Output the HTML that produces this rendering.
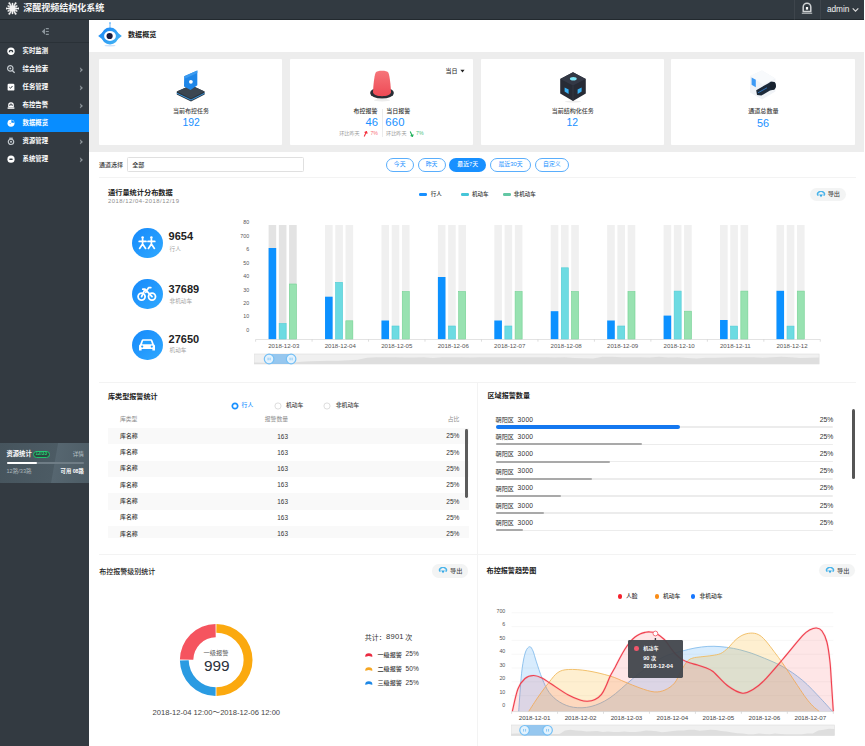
<!DOCTYPE html>
<html lang="zh-CN">
<head>
<meta charset="utf-8">
<title>深醒视频结构化系统 - 数据概览</title>
<style>
html,body{margin:0;padding:0;background:#fff;}
body{position:relative;width:865px;height:746px;overflow:hidden;font-family:"Liberation Sans","Noto Sans CJK SC",sans-serif;}
.a{position:absolute;display:block;}
.t{white-space:nowrap;}
.g{position:absolute;left:0;top:0;display:block;overflow:visible;}
.h{position:absolute;left:0;top:0;width:100%;height:100%;overflow:visible;white-space:nowrap;font-family:"Liberation Sans","Noto Sans CJK SC",sans-serif;font-weight:normal;}
.h.b{font-weight:bold;}
.h.m{font-weight:500;}
</style>
</head>
<body>
<header class="topbar">
<div class="a" style="left:0px;top:0px;width:864px;height:19.8px;background:#22292e;"></div>
<div class="a" style="left:0px;top:0px;width:864px;height:18.5px;background:#323a41;"></div>
<svg class="a" style="left:6.2px;top:1.9px;width:13px;height:13px;" viewBox="0 0 13 13"><line x1="6.5" y1="6.5" x2="12.7" y2="6.5" stroke="#f2f2f2" stroke-width="1.2"/><circle cx="12.7" cy="6.5" r="1.0" fill="#f2f2f2"/><line x1="6.5" y1="6.5" x2="10.83" y2="9" stroke="#f2f2f2" stroke-width="1"/><circle cx="10.83" cy="9" r="0.8" fill="#f2f2f2"/><line x1="6.5" y1="6.5" x2="9.6" y2="11.87" stroke="#f2f2f2" stroke-width="1.2"/><circle cx="9.6" cy="11.87" r="1.0" fill="#f2f2f2"/><line x1="6.5" y1="6.5" x2="6.5" y2="11.5" stroke="#f2f2f2" stroke-width="1"/><circle cx="6.5" cy="11.5" r="0.8" fill="#f2f2f2"/><line x1="6.5" y1="6.5" x2="3.4" y2="11.87" stroke="#f2f2f2" stroke-width="1.2"/><circle cx="3.4" cy="11.87" r="1.0" fill="#f2f2f2"/><line x1="6.5" y1="6.5" x2="2.17" y2="9" stroke="#f2f2f2" stroke-width="1"/><circle cx="2.17" cy="9" r="0.8" fill="#f2f2f2"/><line x1="6.5" y1="6.5" x2="0.3" y2="6.5" stroke="#f2f2f2" stroke-width="1.2"/><circle cx="0.3" cy="6.5" r="1.0" fill="#f2f2f2"/><line x1="6.5" y1="6.5" x2="2.17" y2="4" stroke="#f2f2f2" stroke-width="1"/><circle cx="2.17" cy="4" r="0.8" fill="#f2f2f2"/><line x1="6.5" y1="6.5" x2="3.4" y2="1.13" stroke="#f2f2f2" stroke-width="1.2"/><circle cx="3.4" cy="1.13" r="1.0" fill="#f2f2f2"/><line x1="6.5" y1="6.5" x2="6.5" y2="1.5" stroke="#f2f2f2" stroke-width="1"/><circle cx="6.5" cy="1.5" r="0.8" fill="#f2f2f2"/><line x1="6.5" y1="6.5" x2="9.6" y2="1.13" stroke="#f2f2f2" stroke-width="1.2"/><circle cx="9.6" cy="1.13" r="1.0" fill="#f2f2f2"/><line x1="6.5" y1="6.5" x2="10.83" y2="4" stroke="#f2f2f2" stroke-width="1"/><circle cx="10.83" cy="4" r="0.8" fill="#f2f2f2"/><circle cx="6.5" cy="6.5" r="3.2" fill="#f2f2f2"/><circle cx="6.5" cy="6.5" r="4.3" fill="none" stroke="#fff" stroke-opacity=".4" stroke-width="1"/></svg>
</header>
<aside class="sidebar">
<div class="a" style="left:23.2px;top:4px;width:81px;height:9px"><span class="h b" style="font-size:9px;line-height:9px;color:#f4f4f4">深醒视频结构化系统</span></div>
<div class="a" style="left:793.6px;top:0px;width:0.6px;height:19.8px;background:rgba(255,255,255,.06);"></div>
<div class="a" style="left:820.2px;top:0px;width:0.6px;height:19.8px;background:rgba(255,255,255,.06);"></div>
<svg class="a" style="left:800.9px;top:2.2px;width:12px;height:12px;" viewBox="0 0 12 12"><path d="M2.2 9.4V5A3.8 3.8 0 0 1 9.8 5V9.4Z" fill="none" stroke="#cfd2d4" stroke-width="1.5" stroke-linejoin="round"/><rect x="4.9" y="5" width="2.2" height="2.6" fill="#fff"/><path d="M0.8 11.2h10.4" stroke="#c4c8ca" stroke-width="1.1"/></svg>
<div class="a" style="left:826.9px;top:4.67px;width:22.61px;height:8.3px"><span class="h" style="font-size:8.3px;line-height:8.3px;color:#f4f4f4">admin</span></div>
<svg class="a" style="left:852.2px;top:6.8px;width:7px;height:6px;" viewBox="0 0 7 6"><path d="M0.7 1.4L3.5 4.2L6.3 1.4" fill="none" stroke="#dcdcdc" stroke-width="1.15"/></svg>
<div class="a" style="left:0px;top:19.8px;width:89.4px;height:726.2px;background:#333a41;"></div>
<div class="a" style="left:0px;top:42.1px;width:89.4px;height:0.6px;background:#2a3137;"></div>
<svg class="a" style="left:40.9px;top:27.2px;width:9px;height:9px;" viewBox="0 0 9 9"><path d="M0.8 4.5L4 1.4V7.6Z" fill="#8d969d"/><path d="M4.8 1.6h3M4.8 4.5h3M4.8 7.4h3" stroke="#8d969d" stroke-width="1.1"/></svg>
<svg class="a" style="left:7px;top:47.3px;width:8px;height:8.4px;" viewBox="0 0 8 8.4"><circle cx="4" cy="4.2" r="3.7" fill="#fff"/><path d="M1.6 5.2a2.4 2.4 0 0 1 4.8 0z" fill="#30383f"/><circle cx="4" cy="4.9" r="0.9" fill="#fff"/></svg>
<div class="a" style="left:22.5px;top:48.2px;width:25.6px;height:6.4px"><span class="h b" style="font-size:6.4px;line-height:6.4px;color:#fff">实时监测</span></div>
<svg class="a" style="left:7px;top:65.3px;width:8px;height:8.4px;" viewBox="0 0 8 8.4"><circle cx="3.3" cy="3.4" r="2.7" fill="none" stroke="#c3c9ce" stroke-width="1.2"/><path d="M5.3 5.5L7.6 7.8" stroke="#c3c9ce" stroke-width="1.3"/><circle cx="3.3" cy="3.4" r="0.9" fill="#c3c9ce"/></svg>
<div class="a" style="left:22.5px;top:66.2px;width:25.6px;height:6.4px"><span class="h b" style="font-size:6.4px;line-height:6.4px;color:#fff">综合检索</span></div>
<svg class="a" style="left:79.2px;top:66.6px;width:5px;height:6px;" viewBox="0 0 5 6"><path d="M1.2 0.8L3.6 2.9L1.2 5L2 2.9Z" fill="#949ca2" stroke="#949ca2" stroke-width="0.5" stroke-linejoin="round"/></svg>
<svg class="a" style="left:7px;top:83.3px;width:8px;height:8.4px;" viewBox="0 0 8 8.4"><rect x="0.6" y="0.8" width="6.8" height="6.8" rx="1.2" fill="#fff"/><path d="M2.3 4.1l1.2 1.2l2-2.3" stroke="#30383f" stroke-width="1" fill="none"/></svg>
<div class="a" style="left:22.5px;top:84.2px;width:25.6px;height:6.4px"><span class="h b" style="font-size:6.4px;line-height:6.4px;color:#fff">任务管理</span></div>
<svg class="a" style="left:79.2px;top:84.6px;width:5px;height:6px;" viewBox="0 0 5 6"><path d="M1.2 0.8L3.6 2.9L1.2 5L2 2.9Z" fill="#949ca2" stroke="#949ca2" stroke-width="0.5" stroke-linejoin="round"/></svg>
<svg class="a" style="left:7px;top:101.3px;width:8px;height:8.4px;" viewBox="0 0 8 8.4"><path d="M1.8 5.6v-1.6a2.2 2.2 0 0 1 4.4 0v1.6z" fill="none" stroke="#fff" stroke-width="1.2"/><path d="M0.6 7.1h6.8" stroke="#fff" stroke-width="1.4"/><circle cx="4" cy="4.3" r="0.8" fill="#fff"/></svg>
<div class="a" style="left:22.5px;top:102.2px;width:25.6px;height:6.4px"><span class="h b" style="font-size:6.4px;line-height:6.4px;color:#fff">布控告警</span></div>
<svg class="a" style="left:79.2px;top:102.6px;width:5px;height:6px;" viewBox="0 0 5 6"><path d="M1.2 0.8L3.6 2.9L1.2 5L2 2.9Z" fill="#949ca2" stroke="#949ca2" stroke-width="0.5" stroke-linejoin="round"/></svg>
<div class="a" style="left:0px;top:113.9px;width:89.4px;height:18.2px;background:#088dff;"></div>
<svg class="a" style="left:7px;top:119.3px;width:8px;height:8.4px;" viewBox="0 0 8 8.4"><circle cx="4" cy="4.2" r="3.5" fill="#fff"/><path d="M4.4 3.8V0.9A3.3 3.3 0 0 1 7.3 3.8z" fill="#088dff"/><circle cx="3.2" cy="4.6" r="0.7" fill="#5cb3ff"/></svg>
<div class="a" style="left:22.5px;top:120.2px;width:25.6px;height:6.4px"><span class="h b" style="font-size:6.4px;line-height:6.4px;color:#fff">数据概览</span></div>
<svg class="a" style="left:7px;top:137.3px;width:8px;height:8.4px;" viewBox="0 0 8 8.4"><circle cx="4" cy="4.8" r="2.7" fill="none" stroke="#c3c9ce" stroke-width="1.2"/><path d="M2.2 1.2h3.6" stroke="#c3c9ce" stroke-width="1.2"/><circle cx="4" cy="4.8" r="1" fill="#c3c9ce"/></svg>
<div class="a" style="left:22.5px;top:138.2px;width:25.6px;height:6.4px"><span class="h b" style="font-size:6.4px;line-height:6.4px;color:#fff">资源管理</span></div>
<svg class="a" style="left:79.2px;top:138.6px;width:5px;height:6px;" viewBox="0 0 5 6"><path d="M1.2 0.8L3.6 2.9L1.2 5L2 2.9Z" fill="#949ca2" stroke="#949ca2" stroke-width="0.5" stroke-linejoin="round"/></svg>
<svg class="a" style="left:7px;top:155.3px;width:8px;height:8.4px;" viewBox="0 0 8 8.4"><circle cx="4" cy="4.2" r="3.6" fill="#fff"/><rect x="2.2" y="3.4" width="3.6" height="1.7" rx="0.8" fill="#30383f"/></svg>
<div class="a" style="left:22.5px;top:156.2px;width:25.6px;height:6.4px"><span class="h b" style="font-size:6.4px;line-height:6.4px;color:#fff">系统管理</span></div>
<svg class="a" style="left:79.2px;top:156.6px;width:5px;height:6px;" viewBox="0 0 5 6"><path d="M1.2 0.8L3.6 2.9L1.2 5L2 2.9Z" fill="#949ca2" stroke="#949ca2" stroke-width="0.5" stroke-linejoin="round"/></svg>
<div class="a" style="left:0px;top:442.5px;width:89.4px;height:40.2px;background:linear-gradient(100deg,#46545d 0%,#4c5b64 60%,#566670 61%,#4d5c65 100%);"></div>
<div class="a" style="left:6.5px;top:451.15px;width:25.2px;height:6.3px"><span class="h b" style="font-size:6.3px;line-height:6.3px;color:#fff">资源统计</span></div>
<div class="a" style="left:32.7px;top:450.6px;width:17px;height:7.4px;border:.8px solid #1fc56d;border-radius:4px;box-sizing:border-box;background:#2c4a40;"></div>
<div class="a" style="left:35.44px;top:452px;width:11.51px;height:4.6px"><span class="h b" style="font-size:4.6px;line-height:4.6px;color:#27d37a">12/33</span></div>
<div class="a" style="left:72.7px;top:451.5px;width:11.2px;height:5.6px"><span class="h" style="font-size:5.6px;line-height:5.6px;color:#b9c2c8">详情</span></div>
<div class="a" style="left:6.5px;top:461.8px;width:77.4px;height:2px;background:#6f7d86;border-radius:1px;"></div>
<div class="a" style="left:6.5px;top:461.8px;width:30.5px;height:2px;background:#fff;border-radius:1px;"></div>
<div class="a" style="left:6.5px;top:469px;width:25.21px;height:5.6px"><span class="h" style="font-size:5.6px;line-height:5.6px;color:#aab4ba">12路/33路</span></div>
<div class="a" style="left:60.62px;top:469.15px;width:23.28px;height:5.3px"><span class="h b" style="font-size:5.3px;line-height:5.3px;color:#fff">可用 08路</span></div>
</aside>
<section class="overview-cards">
<div class="a" style="left:89.4px;top:19.8px;width:774.6px;height:31.8px;background:#fff;"></div>
<svg class="a" style="left:97.5px;top:22px;width:24px;height:25px;" viewBox="0 0 24 25"><defs><linearGradient id="eg" x1="0" y1="0" x2="1" y2="1"><stop offset="0" stop-color="#1a86f5"/><stop offset="1" stop-color="#45b6f3"/></linearGradient></defs><ellipse cx="12" cy="23.6" rx="5.5" ry="0.9" fill="#cfe3fb"/><path d="M11.55 0.6h.9v6h-.9z" fill="#5fb0f7"/><circle cx="12" cy="1" r="0.8" fill="#5fb0f7"/><path d="M0.2 14L7 8.4A8.4 8.4 0 0 1 17 8.4L23.8 14L17 19.6A8.4 8.4 0 0 1 7 19.6Z" fill="url(#eg)"/><circle cx="12" cy="14" r="8.5" fill="url(#eg)"/><ellipse cx="12" cy="14" rx="5.9" ry="4.9" fill="#fff"/><circle cx="11.6" cy="14" r="3.1" fill="#1b1b3c"/></svg>
<div class="a" style="left:128px;top:32.45px;width:28.4px;height:7.1px"><span class="h b" style="font-size:7.1px;line-height:7.1px;color:#222">数据概览</span></div>
<div class="a" style="left:89.4px;top:51.6px;width:774.6px;height:100.3px;background:#ededed;"></div>
<div class="a" style="left:99.2px;top:59.1px;width:182.8px;height:85.5px;background:#fff;border-radius:1px;"></div>
<div class="a" style="left:289.6px;top:59.1px;width:183.8px;height:85.5px;background:#fff;border-radius:1px;"></div>
<div class="a" style="left:481px;top:59.1px;width:183px;height:85.5px;background:#fff;border-radius:1px;"></div>
<div class="a" style="left:671.4px;top:59.1px;width:183.3px;height:85.5px;background:#fff;border-radius:1px;"></div>
<svg class="a" style="left:176px;top:69px;width:30px;height:33px;" viewBox="0 0 30 33"><path d="M0.8 22.6L15 16.2L28.6 22.6V25.4L15 32.4L0.8 25.4Z" fill="#27313b"/><path d="M0.8 24.2L15 31L28.6 24.2" fill="none" stroke="#3fa3f0" stroke-width="0.9"/><path d="M0.8 22.6L15 16.2L28.6 22.6L15 29.4Z" fill="#3b4651"/><path d="M8.2 7.2L21.3 1.4V16.2L14.6 21L8 17.6Z" fill="#1e86e8"/><path d="M8.2 7.2L21.3 1.4V4L9.5 9.4Z" fill="#3c9bf0"/><circle cx="14.9" cy="12.8" r="1.9" fill="#fff"/></svg>
<div class="a" style="left:173.1px;top:108.2px;width:36px;height:6px"><span class="h m" style="font-size:6px;line-height:6px;color:#444">当前布控任务</span></div>
<div class="a" style="left:182.42px;top:117.77px;width:17.35px;height:10.4px"><span class="h" style="font-size:10.4px;line-height:10.4px;color:#1890ff">192</span></div>
<svg class="a" style="left:369.6px;top:70.4px;width:24px;height:32px;" viewBox="0 0 24 32"><defs><linearGradient id="rg" x1="0" y1="0" x2="0" y2="1"><stop offset="0" stop-color="#f6757a"/><stop offset="1" stop-color="#ee4a55"/></linearGradient></defs><ellipse cx="12" cy="30.2" rx="8" ry="1.2" fill="#ececec"/><ellipse cx="12" cy="23" rx="11.8" ry="5.6" fill="#2a2f36"/><path d="M3 22.5C3.3 15 4.2 6.5 5.6 2.8C7 0.2 17 0.2 18.4 2.8C19.8 6.5 20.7 15 21 22.5C20 27.4 4 27.4 3 22.5Z" fill="url(#rg)"/></svg>
<div class="a" style="left:353.6px;top:108.3px;width:24px;height:6px"><span class="h m" style="font-size:6px;line-height:6px;color:#333">布控报警</span></div>
<div class="a" style="left:386.3px;top:108.3px;width:24px;height:6px"><span class="h m" style="font-size:6px;line-height:6px;color:#333">当日报警</span></div>
<div class="a" style="left:382.1px;top:108.5px;width:0.6px;height:28px;background:#ececec;"></div>
<div class="a" style="left:365.4px;top:117.2px;width:12.8px;height:11.3px"><span class="h" style="font-size:11.3px;line-height:11.3px;color:#1890ff;letter-spacing:.2px">46</span></div>
<div class="a" style="left:385.2px;top:117.2px;width:19.31px;height:11.3px"><span class="h" style="font-size:11.3px;line-height:11.3px;color:#1890ff;letter-spacing:.2px">660</span></div>
<div class="a" style="left:339.2px;top:130.85px;width:20.4px;height:5.1px"><span class="h" style="font-size:5.1px;line-height:5.1px;color:#999">环比昨天</span></div>
<svg class="a" style="left:363.2px;top:130.6px;width:5px;height:6px;" viewBox="0 0 5 6"><path d="M1.2 5.4L3.4 0.8M1.6 1.6L3.5 0.6L4.2 2.6" fill="none" stroke="#f5323f" stroke-width="1.1"/></svg>
<div class="a" style="left:370.48px;top:130.79px;width:7.52px;height:5.2px"><span class="h" style="font-size:5.2px;line-height:5.2px;color:#f7707a">7%</span></div>
<div class="a" style="left:386.1px;top:130.85px;width:20.4px;height:5.1px"><span class="h" style="font-size:5.1px;line-height:5.1px;color:#999">环比昨天</span></div>
<svg class="a" style="left:409.4px;top:130.6px;width:5px;height:6px;" viewBox="0 0 5 6"><path d="M1.2 0.6L3.4 5.2M1.6 4.4L3.5 5.4L4.2 3.4" fill="none" stroke="#1fb05a" stroke-width="1.1"/></svg>
<div class="a" style="left:416px;top:130.79px;width:7.52px;height:5.2px"><span class="h" style="font-size:5.2px;line-height:5.2px;color:#4cc27e">7%</span></div>
<div class="a" style="left:445.4px;top:67.6px;width:12px;height:6px"><span class="h m" style="font-size:6px;line-height:6px;color:#333">当日</span></div>
<svg class="a" style="left:459.6px;top:68.5px;width:5px;height:4px;" viewBox="0 0 5 4"><path d="M0.4 0.7h4.2L2.5 3.4Z" fill="#222"/></svg>
<svg class="a" style="left:559.6px;top:72px;width:26px;height:31px;" viewBox="0 0 26 31"><ellipse cx="13" cy="29.6" rx="8" ry="1" fill="#ececec"/><path d="M13 0.3L25.8 7V21.6L13 29L0.2 21.6V7Z" fill="#272b35"/><path d="M13 0.3L25.8 7L13 13.6L0.2 7Z" fill="#333845"/><path d="M13 13.6V29" stroke="#3a3f4c" stroke-width="0.6"/><ellipse cx="13.3" cy="6.8" rx="3.4" ry="1.8" fill="#7fe6f7"/><path d="M4.6 15.4L8.6 17.6V22L4.6 19.6Z" fill="#39b2f6"/><path d="M21.6 15.4L17.6 17.6V22L21.6 19.6Z" fill="#39b2f6"/></svg>
<div class="a" style="left:551.84px;top:108.3px;width:42px;height:6px"><span class="h m" style="font-size:6px;line-height:6px;color:#444">当前结构化任务</span></div>
<div class="a" style="left:566.46px;top:117.87px;width:11.57px;height:10.4px"><span class="h" style="font-size:10.4px;line-height:10.4px;color:#1890ff">12</span></div>
<svg class="a" style="left:749px;top:70.4px;width:28px;height:30px;" viewBox="0 0 28 30"><path d="M1 6L13 0.6L26.4 8.4V21.6L13 29.6L1 22.6Z" fill="#f0f3f7"/><path d="M1 6L13 0.6L26.4 8.4L14 14.6Z" fill="#f8fafc"/><path d="M2.6 7.6L6.8 9.8V17.2L2.6 14.8Z" fill="#3d9af5"/><path d="M7.2 20.2L19 13.4L22 11.6L26 12.6L27 16.2L25.4 19.6L21 20.6L12.4 25.6L8 25Z" fill="#1c2a3a"/><ellipse cx="23.8" cy="15.8" rx="3" ry="4" fill="#17212e"/><path d="M9 22.8L18 17.8" stroke="#2f6fb4" stroke-width="1"/></svg>
<div class="a" style="left:748.16px;top:108.25px;width:30.5px;height:6.1px"><span class="h m" style="font-size:6.1px;line-height:6.1px;color:#444">通道总数量</span></div>
<div class="a" style="left:757.05px;top:117.51px;width:12.12px;height:10.9px"><span class="h" style="font-size:10.9px;line-height:10.9px;color:#1890ff">56</span></div>
</section>
<section class="traffic-chart">
<div class="a" style="left:99px;top:162px;width:24px;height:6px"><span class="h m" style="font-size:6px;line-height:6px;color:#444">通道选择</span></div>
<div class="a" style="left:127px;top:157.4px;width:177px;height:14.8px;background:#fff;border:.8px solid #e0e0e0;border-radius:1.5px;box-sizing:border-box;"></div>
<div class="a" style="left:132.3px;top:162px;width:12px;height:6px"><span class="h m" style="font-size:6px;line-height:6px;color:#333">全部</span></div>
<div class="a" style="left:385.6px;top:158.3px;width:28.2px;height:13.4px;background:#fff;border:.8px solid #5aaefc;border-radius:7px;box-sizing:border-box;"></div>
<div class="a" style="left:393.8px;top:162.05px;width:11.8px;height:5.9px"><span class="h" style="font-size:5.9px;line-height:5.9px;color:#1890ff">今天</span></div>
<div class="a" style="left:417.6px;top:158.3px;width:28px;height:13.4px;background:#fff;border:.8px solid #5aaefc;border-radius:7px;box-sizing:border-box;"></div>
<div class="a" style="left:425.7px;top:162.05px;width:11.8px;height:5.9px"><span class="h" style="font-size:5.9px;line-height:5.9px;color:#1890ff">昨天</span></div>
<div class="a" style="left:449.3px;top:158.3px;width:36.9px;height:13.4px;background:#1890ff;border-radius:7px;"></div>
<div class="a" style="left:457.26px;top:162.05px;width:20.98px;height:5.9px"><span class="h m" style="font-size:5.9px;line-height:5.9px;color:#fff">最近7天</span></div>
<div class="a" style="left:490px;top:158.3px;width:41.2px;height:13.4px;background:#fff;border:.8px solid #5aaefc;border-radius:7px;box-sizing:border-box;"></div>
<div class="a" style="left:498.47px;top:162.05px;width:24.26px;height:5.9px"><span class="h" style="font-size:5.9px;line-height:5.9px;color:#1890ff">最近30天</span></div>
<div class="a" style="left:535px;top:158.3px;width:33.7px;height:13.4px;background:#fff;border:.8px solid #5aaefc;border-radius:7px;box-sizing:border-box;"></div>
<div class="a" style="left:543px;top:162.05px;width:17.7px;height:5.9px"><span class="h" style="font-size:5.9px;line-height:5.9px;color:#1890ff">自定义</span></div>
<div class="a" style="left:99px;top:177.2px;width:756.5px;height:0.7px;background:#f3f3f3;"></div>
<div class="a" style="left:108px;top:188.9px;width:64.8px;height:7.2px"><span class="h b" style="font-size:7.2px;line-height:7.2px;color:#222">通行量统计分布数据</span></div>
<div class="a" style="left:108px;top:198.72px;width:71.05px;height:5.9px"><span class="h" style="font-size:5.9px;line-height:5.9px;color:#8c8c8c;letter-spacing:.5px">2018/12/04-2018/12/19</span></div>
<div class="a" style="left:419.2px;top:192.9px;width:7.5px;height:3.2px;background:#1890ff;border-radius:1.2px;"></div>
<div class="a" style="left:430.8px;top:191.75px;width:11px;height:5.5px"><span class="h m" style="font-size:5.5px;line-height:5.5px;color:#333">行人</span></div>
<div class="a" style="left:461.2px;top:192.9px;width:7.5px;height:3.2px;background:#45c5d8;border-radius:1.2px;"></div>
<div class="a" style="left:472px;top:191.75px;width:16.5px;height:5.5px"><span class="h m" style="font-size:5.5px;line-height:5.5px;color:#333">机动车</span></div>
<div class="a" style="left:503px;top:192.9px;width:7.5px;height:3.2px;background:#63c7a4;border-radius:1.2px;"></div>
<div class="a" style="left:513.8px;top:191.75px;width:22px;height:5.5px"><span class="h m" style="font-size:5.5px;line-height:5.5px;color:#333">非机动车</span></div>
<div class="a" style="left:809.7px;top:187.7px;width:36.4px;height:13.4px;background:#f3f4f4;border-radius:6.7px;"></div>
<svg class="a" style="left:815.7px;top:190.8px;width:10px;height:7px;" viewBox="0 0 10 7"><path d="M2 4.1A1.5 1.5 0 0 1 2.6 1.5A2.6 2.2 0 0 1 7.4 1.5A1.5 1.5 0 0 1 8 4.1" fill="none" stroke="#4ab4ea" stroke-width="1.5" stroke-linecap="round"/><path d="M3.1 3.6H6.9L5 6.3Z" fill="#34a8e6"/></svg>
<div class="a" style="left:827.7px;top:191.2px;width:12.4px;height:6.2px"><span class="h m" style="font-size:6.2px;line-height:6.2px;color:#505050">导出</span></div>
<div class="a" style="left:132.2px;top:227.7px;width:30.4px;height:30px;background:linear-gradient(135deg,#1689fb,#2fa9ff);border-radius:50%;"></div>
<svg class="a" style="left:137.4px;top:232.7px;width:20px;height:20px;" viewBox="0 0 20 20"><g fill="none" stroke="#fff" stroke-width="1.7" stroke-linecap="round"><path d="M5.6 6.2V11M2.2 8.4H9M5.6 11L2.6 15.4M5.6 11L8.6 15.4"/><path d="M14.4 6.2V11M11 8.4H17.8M14.4 11L11.4 15.4M14.4 11L17.4 15.4"/></g><circle cx="5.6" cy="4.6" r="1.3" fill="#fff"/><circle cx="14.4" cy="4.6" r="1.3" fill="#fff"/></svg>
<div class="a" style="left:168.6px;top:230.86px;width:24.47px;height:11px"><span class="h b" style="font-size:11px;line-height:11px;color:#222">9654</span></div>
<div class="a" style="left:169.6px;top:246.6px;width:11.2px;height:5.6px"><span class="h" style="font-size:5.6px;line-height:5.6px;color:#a6a6a6">行人</span></div>
<div class="a" style="left:132.2px;top:279.1px;width:30.4px;height:30px;background:linear-gradient(135deg,#1689fb,#2fa9ff);border-radius:50%;"></div>
<svg class="a" style="left:137.4px;top:284.1px;width:20px;height:20px;" viewBox="0 0 20 20"><g fill="none" stroke="#fff" stroke-width="1.8" stroke-linecap="round" stroke-linejoin="round"><circle cx="4.6" cy="12.6" r="3.5"/><circle cx="15" cy="12.6" r="3.5"/><path d="M4.6 12.6L8 5.2L15 12.6M8 5.2H5.8M8.8 8.2L11.6 3.6H13.8"/></g></svg>
<div class="a" style="left:168.6px;top:283.76px;width:30.59px;height:11px"><span class="h b" style="font-size:11px;line-height:11px;color:#222">37689</span></div>
<div class="a" style="left:169.6px;top:299px;width:22.4px;height:5.6px"><span class="h" style="font-size:5.6px;line-height:5.6px;color:#a6a6a6">非机动车</span></div>
<div class="a" style="left:132.2px;top:329.8px;width:30.4px;height:30px;background:linear-gradient(135deg,#1689fb,#2fa9ff);border-radius:50%;"></div>
<svg class="a" style="left:137.4px;top:334.8px;width:20px;height:20px;" viewBox="0 0 20 20"><path d="M3 9.6L4.6 5.2Q5 4.2 6 4.2H14Q15 4.2 15.4 5.2L17 9.6Q18 10 18 11V15.6H15.4V14H4.6V15.6H2V11Q2 10 3 9.6Z" fill="#fff"/><path d="M5 9.2L6.2 5.8H13.8L15 9.2Z" fill="#22a0ff"/><circle cx="5.2" cy="11.6" r="1.1" fill="#22a0ff"/><circle cx="14.8" cy="11.6" r="1.1" fill="#22a0ff"/></svg>
<div class="a" style="left:168.6px;top:334.26px;width:30.59px;height:11px"><span class="h b" style="font-size:11px;line-height:11px;color:#222">27650</span></div>
<div class="a" style="left:169.6px;top:348.4px;width:16.8px;height:5.6px"><span class="h" style="font-size:5.6px;line-height:5.6px;color:#a6a6a6">机动车</span></div>
<div class="a" style="left:243.3px;top:220.33px;width:5.9px;height:5.3px"><span class="h" style="font-size:5.3px;line-height:5.3px;color:#555">80</span></div>
<div class="a" style="left:240.36px;top:233.78px;width:8.84px;height:5.3px"><span class="h" style="font-size:5.3px;line-height:5.3px;color:#555">700</span></div>
<div class="a" style="left:246.25px;top:247.23px;width:2.95px;height:5.3px"><span class="h" style="font-size:5.3px;line-height:5.3px;color:#555">6</span></div>
<div class="a" style="left:243.3px;top:260.68px;width:5.9px;height:5.3px"><span class="h" style="font-size:5.3px;line-height:5.3px;color:#555">50</span></div>
<div class="a" style="left:243.3px;top:274.13px;width:5.9px;height:5.3px"><span class="h" style="font-size:5.3px;line-height:5.3px;color:#555">40</span></div>
<div class="a" style="left:243.3px;top:287.58px;width:5.9px;height:5.3px"><span class="h" style="font-size:5.3px;line-height:5.3px;color:#555">30</span></div>
<div class="a" style="left:243.3px;top:301.03px;width:5.9px;height:5.3px"><span class="h" style="font-size:5.3px;line-height:5.3px;color:#555">20</span></div>
<div class="a" style="left:243.3px;top:314.48px;width:5.9px;height:5.3px"><span class="h" style="font-size:5.3px;line-height:5.3px;color:#555">10</span></div>
<div class="a" style="left:246.25px;top:327.93px;width:2.95px;height:5.3px"><span class="h" style="font-size:5.3px;line-height:5.3px;color:#555">0</span></div>
<svg class="a" style="left:240px;top:215px;width:625px;height:160px;" viewBox="0 0 625 160"><rect x="28.6" y="10" width="7.6" height="114.2" fill="#e3e3e3"/><rect x="28.6" y="33" width="7.6" height="91.2" fill="#0c91ff"/><rect x="38.85" y="10" width="7.6" height="114.2" fill="#e3e3e3"/><rect x="39.15" y="108.5" width="7" height="15.7" fill="#6ddbe2" stroke="#4fcdd6" stroke-width="0.6"/><rect x="49.1" y="10" width="7.6" height="114.2" fill="#e3e3e3"/><rect x="49.4" y="69" width="7" height="55.2" fill="#98e2b1" stroke="#74d394" stroke-width="0.6"/><rect x="85.03" y="10" width="7.6" height="114.2" fill="#f0f0f0"/><rect x="85.03" y="81.7" width="7.6" height="42.5" fill="#0c91ff"/><rect x="95.28" y="10" width="7.6" height="114.2" fill="#f0f0f0"/><rect x="95.58" y="67.3" width="7" height="56.9" fill="#6ddbe2" stroke="#4fcdd6" stroke-width="0.6"/><rect x="105.53" y="10" width="7.6" height="114.2" fill="#f0f0f0"/><rect x="105.83" y="105.8" width="7" height="18.4" fill="#98e2b1" stroke="#74d394" stroke-width="0.6"/><rect x="141.46" y="10" width="7.6" height="114.2" fill="#f0f0f0"/><rect x="141.46" y="105.5" width="7.6" height="18.7" fill="#0c91ff"/><rect x="151.71" y="10" width="7.6" height="114.2" fill="#f0f0f0"/><rect x="152.01" y="111" width="7" height="13.2" fill="#6ddbe2" stroke="#4fcdd6" stroke-width="0.6"/><rect x="161.96" y="10" width="7.6" height="114.2" fill="#f0f0f0"/><rect x="162.26" y="76.5" width="7" height="47.7" fill="#98e2b1" stroke="#74d394" stroke-width="0.6"/><rect x="197.89" y="10" width="7.6" height="114.2" fill="#f0f0f0"/><rect x="197.89" y="62" width="7.6" height="62.2" fill="#0c91ff"/><rect x="208.14" y="10" width="7.6" height="114.2" fill="#f0f0f0"/><rect x="208.44" y="111" width="7" height="13.2" fill="#6ddbe2" stroke="#4fcdd6" stroke-width="0.6"/><rect x="218.39" y="10" width="7.6" height="114.2" fill="#f0f0f0"/><rect x="218.69" y="76.5" width="7" height="47.7" fill="#98e2b1" stroke="#74d394" stroke-width="0.6"/><rect x="254.32" y="10" width="7.6" height="114.2" fill="#f0f0f0"/><rect x="254.32" y="105.5" width="7.6" height="18.7" fill="#0c91ff"/><rect x="264.57" y="10" width="7.6" height="114.2" fill="#f0f0f0"/><rect x="264.87" y="111" width="7" height="13.2" fill="#6ddbe2" stroke="#4fcdd6" stroke-width="0.6"/><rect x="274.82" y="10" width="7.6" height="114.2" fill="#f0f0f0"/><rect x="275.12" y="76.5" width="7" height="47.7" fill="#98e2b1" stroke="#74d394" stroke-width="0.6"/><rect x="310.75" y="10" width="7.6" height="114.2" fill="#f0f0f0"/><rect x="310.75" y="96.2" width="7.6" height="28" fill="#0c91ff"/><rect x="321" y="10" width="7.6" height="114.2" fill="#f0f0f0"/><rect x="321.3" y="52.8" width="7" height="71.4" fill="#6ddbe2" stroke="#4fcdd6" stroke-width="0.6"/><rect x="331.25" y="10" width="7.6" height="114.2" fill="#f0f0f0"/><rect x="331.55" y="76.5" width="7" height="47.7" fill="#98e2b1" stroke="#74d394" stroke-width="0.6"/><rect x="367.18" y="10" width="7.6" height="114.2" fill="#f0f0f0"/><rect x="367.18" y="105.5" width="7.6" height="18.7" fill="#0c91ff"/><rect x="377.43" y="10" width="7.6" height="114.2" fill="#f0f0f0"/><rect x="377.73" y="111" width="7" height="13.2" fill="#6ddbe2" stroke="#4fcdd6" stroke-width="0.6"/><rect x="387.68" y="10" width="7.6" height="114.2" fill="#f0f0f0"/><rect x="387.98" y="76.5" width="7" height="47.7" fill="#98e2b1" stroke="#74d394" stroke-width="0.6"/><rect x="423.61" y="10" width="7.6" height="114.2" fill="#f0f0f0"/><rect x="423.61" y="100.6" width="7.6" height="23.6" fill="#0c91ff"/><rect x="433.86" y="10" width="7.6" height="114.2" fill="#f0f0f0"/><rect x="434.16" y="76.1" width="7" height="48.1" fill="#6ddbe2" stroke="#4fcdd6" stroke-width="0.6"/><rect x="444.11" y="10" width="7.6" height="114.2" fill="#f0f0f0"/><rect x="444.41" y="96.2" width="7" height="28" fill="#98e2b1" stroke="#74d394" stroke-width="0.6"/><rect x="480.04" y="10" width="7.6" height="114.2" fill="#f0f0f0"/><rect x="480.04" y="105" width="7.6" height="19.2" fill="#0c91ff"/><rect x="490.29" y="10" width="7.6" height="114.2" fill="#f0f0f0"/><rect x="490.59" y="111.1" width="7" height="13.1" fill="#6ddbe2" stroke="#4fcdd6" stroke-width="0.6"/><rect x="500.54" y="10" width="7.6" height="114.2" fill="#f0f0f0"/><rect x="500.84" y="76.1" width="7" height="48.1" fill="#98e2b1" stroke="#74d394" stroke-width="0.6"/><rect x="536.47" y="10" width="7.6" height="114.2" fill="#f0f0f0"/><rect x="536.47" y="75.8" width="7.6" height="48.4" fill="#0c91ff"/><rect x="546.72" y="10" width="7.6" height="114.2" fill="#f0f0f0"/><rect x="547.02" y="111.1" width="7" height="13.1" fill="#6ddbe2" stroke="#4fcdd6" stroke-width="0.6"/><rect x="556.97" y="10" width="7.6" height="114.2" fill="#f0f0f0"/><rect x="557.27" y="76.1" width="7" height="48.1" fill="#98e2b1" stroke="#74d394" stroke-width="0.6"/><path d="M15.6 124.5H580.3" stroke="#d0d0d0" stroke-width="0.6"/><path d="M15.6 124.5v2.2" stroke="#c8c8c8" stroke-width="0.6"/><path d="M72.07 124.5v2.2" stroke="#c8c8c8" stroke-width="0.6"/><path d="M128.54 124.5v2.2" stroke="#c8c8c8" stroke-width="0.6"/><path d="M185.01 124.5v2.2" stroke="#c8c8c8" stroke-width="0.6"/><path d="M241.48 124.5v2.2" stroke="#c8c8c8" stroke-width="0.6"/><path d="M297.95 124.5v2.2" stroke="#c8c8c8" stroke-width="0.6"/><path d="M354.42 124.5v2.2" stroke="#c8c8c8" stroke-width="0.6"/><path d="M410.89 124.5v2.2" stroke="#c8c8c8" stroke-width="0.6"/><path d="M467.36 124.5v2.2" stroke="#c8c8c8" stroke-width="0.6"/><path d="M523.83 124.5v2.2" stroke="#c8c8c8" stroke-width="0.6"/><path d="M580.3 124.5v2.2" stroke="#c8c8c8" stroke-width="0.6"/></svg>
<div class="a" style="left:268.23px;top:342.62px;width:31.2px;height:6.1px"><span class="h" style="font-size:6.1px;line-height:6.1px;color:#555">2018-12-03</span></div>
<div class="a" style="left:324.7px;top:342.62px;width:31.2px;height:6.1px"><span class="h" style="font-size:6.1px;line-height:6.1px;color:#555">2018-12-04</span></div>
<div class="a" style="left:381.17px;top:342.62px;width:31.2px;height:6.1px"><span class="h" style="font-size:6.1px;line-height:6.1px;color:#555">2018-12-05</span></div>
<div class="a" style="left:437.64px;top:342.62px;width:31.2px;height:6.1px"><span class="h" style="font-size:6.1px;line-height:6.1px;color:#555">2018-12-06</span></div>
<div class="a" style="left:494.11px;top:342.62px;width:31.2px;height:6.1px"><span class="h" style="font-size:6.1px;line-height:6.1px;color:#555">2018-12-07</span></div>
<div class="a" style="left:550.58px;top:342.62px;width:31.2px;height:6.1px"><span class="h" style="font-size:6.1px;line-height:6.1px;color:#555">2018-12-08</span></div>
<div class="a" style="left:607.05px;top:342.62px;width:31.2px;height:6.1px"><span class="h" style="font-size:6.1px;line-height:6.1px;color:#555">2018-12-09</span></div>
<div class="a" style="left:663.52px;top:342.62px;width:31.2px;height:6.1px"><span class="h" style="font-size:6.1px;line-height:6.1px;color:#555">2018-12-10</span></div>
<div class="a" style="left:719.99px;top:342.62px;width:31.2px;height:6.1px"><span class="h" style="font-size:6.1px;line-height:6.1px;color:#555">2018-12-11</span></div>
<div class="a" style="left:776.46px;top:342.62px;width:31.2px;height:6.1px"><span class="h" style="font-size:6.1px;line-height:6.1px;color:#555">2018-12-12</span></div>
<svg class="a" style="left:254.3px;top:353.1px;width:566.1px;height:12px;" viewBox="0 -1 566.1 12"><rect x="0" y="0" width="565.1" height="10" fill="#f0f0f0" stroke="#dcdcdc" stroke-width="0.6"/><path d="M0 10L0 8.5L9.42 8.75L18.84 8.51L28.25 8.8L37.67 8.8L47.09 7.85L56.51 7.2L65.93 6.94L75.35 6.68L84.77 6.63L94.18 6.3L103.6 5.81L113.02 3.79L122.44 3.2L131.86 3.2L141.27 3.2L150.69 3.4L160.11 3.51L169.53 3.2L178.95 3.9L188.37 3.2L197.78 3.2L207.2 3.2L216.62 3.49L226.04 3.32L235.46 3.2L244.88 3.2L254.29 3.2L263.71 3.2L273.13 3.2L282.55 3.2L291.97 3.2L301.39 3.61L310.8 3.2L320.22 3.99L329.64 4.16L339.06 4.56L348.48 2.8L357.9 2.8L367.31 3.2L376.73 3.2L386.15 3.2L395.57 3.57L404.99 2.8L414.41 3.38L423.82 3.2L433.24 4.08L442.66 4.44L452.08 3.67L461.5 3.75L470.92 3.47L480.33 3.36L489.75 3.2L499.17 3.33L508.59 3.84L518.01 3.2L527.43 2.8L536.84 3.2L546.26 4.12L555.68 3.87L565.1 3.62L565.1 10Z" fill="#dedede"/><rect x="15.1" y="0" width="22" height="10" fill="#86c0ee" fill-opacity="0.85"/><circle cx="15.1" cy="5" r="4.8" fill="#e3f2fd" stroke="#74bff5" stroke-width="1.2"/><path d="M14.1 3.7v2.6M16.1 3.7v2.6" stroke="#74bff5" stroke-width="0.8"/><circle cx="37.1" cy="5" r="4.8" fill="#e3f2fd" stroke="#74bff5" stroke-width="1.2"/><path d="M36.1 3.7v2.6M38.1 3.7v2.6" stroke="#74bff5" stroke-width="0.8"/></svg>
<div class="a" style="left:99px;top:382.2px;width:756.5px;height:0.7px;background:#f3f3f3;"></div>
</section>
<section class="alarm-table">
<div class="a" style="left:477.2px;top:382.5px;width:0.7px;height:363.5px;background:#f3f3f3;"></div>
<div class="a" style="left:108px;top:394.25px;width:49.7px;height:7.1px"><span class="h b" style="font-size:7.1px;line-height:7.1px;color:#222">库类型报警统计</span></div>
<svg class="a" style="left:231px;top:402.2px;width:8px;height:8px;" viewBox="0 0 8 8"><circle cx="4" cy="4" r="2.7" fill="#fff" stroke="#1890ff" stroke-width="1.7"/></svg>
<div class="a" style="left:241.6px;top:403.4px;width:11.6px;height:5.8px"><span class="h m" style="font-size:5.8px;line-height:5.8px;color:#1890ff">行人</span></div>
<svg class="a" style="left:274px;top:402.2px;width:8px;height:8px;" viewBox="0 0 8 8"><circle cx="4" cy="4" r="3.1" fill="#fff" stroke="#d0d0d0" stroke-width="0.7"/></svg>
<div class="a" style="left:285.9px;top:403.4px;width:17.4px;height:5.8px"><span class="h m" style="font-size:5.8px;line-height:5.8px;color:#444">机动车</span></div>
<svg class="a" style="left:323px;top:402.2px;width:8px;height:8px;" viewBox="0 0 8 8"><circle cx="4" cy="4" r="3.1" fill="#fff" stroke="#d0d0d0" stroke-width="0.7"/></svg>
<div class="a" style="left:335.7px;top:403.35px;width:23.6px;height:5.9px"><span class="h m" style="font-size:5.9px;line-height:5.9px;color:#444">非机动车</span></div>
<div class="a" style="left:120px;top:417.1px;width:17.4px;height:5.8px"><span class="h" style="font-size:5.8px;line-height:5.8px;color:#8c8c8c">库类型</span></div>
<div class="a" style="left:264.8px;top:417.1px;width:23.2px;height:5.8px"><span class="h" style="font-size:5.8px;line-height:5.8px;color:#8c8c8c">报警数量</span></div>
<div class="a" style="left:447.7px;top:417.1px;width:11.6px;height:5.8px"><span class="h" style="font-size:5.8px;line-height:5.8px;color:#8c8c8c">占比</span></div>
<div class="a" style="left:108px;top:427.8px;width:360.7px;height:0.6px;background:#e9e9e9;"></div>
<div class="a" style="left:108px;top:428.2px;width:360.7px;height:16.27px;background:#f9f9f9;"></div>
<div class="a" style="left:120px;top:433.95px;width:17.7px;height:5.9px"><span class="h m" style="font-size:5.9px;line-height:5.9px;color:#333">库名称</span></div>
<div class="a" style="left:277.32px;top:433.56px;width:10.68px;height:6.4px"><span class="h" style="font-size:6.4px;line-height:6.4px;color:#333">163</span></div>
<div class="a" style="left:446.29px;top:433.45px;width:13.21px;height:6.6px"><span class="h" style="font-size:6.6px;line-height:6.6px;color:#333">25%</span></div>
<div class="a" style="left:120px;top:450.22px;width:17.7px;height:5.9px"><span class="h m" style="font-size:5.9px;line-height:5.9px;color:#333">库名称</span></div>
<div class="a" style="left:277.32px;top:449.83px;width:10.68px;height:6.4px"><span class="h" style="font-size:6.4px;line-height:6.4px;color:#333">163</span></div>
<div class="a" style="left:446.29px;top:449.72px;width:13.21px;height:6.6px"><span class="h" style="font-size:6.6px;line-height:6.6px;color:#333">25%</span></div>
<div class="a" style="left:108px;top:460.74px;width:360.7px;height:16.27px;background:#f9f9f9;"></div>
<div class="a" style="left:120px;top:466.49px;width:17.7px;height:5.9px"><span class="h m" style="font-size:5.9px;line-height:5.9px;color:#333">库名称</span></div>
<div class="a" style="left:277.32px;top:466.1px;width:10.68px;height:6.4px"><span class="h" style="font-size:6.4px;line-height:6.4px;color:#333">163</span></div>
<div class="a" style="left:446.29px;top:465.99px;width:13.21px;height:6.6px"><span class="h" style="font-size:6.6px;line-height:6.6px;color:#333">25%</span></div>
<div class="a" style="left:120px;top:482.76px;width:17.7px;height:5.9px"><span class="h m" style="font-size:5.9px;line-height:5.9px;color:#333">库名称</span></div>
<div class="a" style="left:277.32px;top:482.37px;width:10.68px;height:6.4px"><span class="h" style="font-size:6.4px;line-height:6.4px;color:#333">163</span></div>
<div class="a" style="left:446.29px;top:482.26px;width:13.21px;height:6.6px"><span class="h" style="font-size:6.6px;line-height:6.6px;color:#333">25%</span></div>
<div class="a" style="left:108px;top:493.28px;width:360.7px;height:16.27px;background:#f9f9f9;"></div>
<div class="a" style="left:120px;top:499.03px;width:17.7px;height:5.9px"><span class="h m" style="font-size:5.9px;line-height:5.9px;color:#333">库名称</span></div>
<div class="a" style="left:277.32px;top:498.64px;width:10.68px;height:6.4px"><span class="h" style="font-size:6.4px;line-height:6.4px;color:#333">163</span></div>
<div class="a" style="left:446.29px;top:498.53px;width:13.21px;height:6.6px"><span class="h" style="font-size:6.6px;line-height:6.6px;color:#333">25%</span></div>
<div class="a" style="left:120px;top:515.3px;width:17.7px;height:5.9px"><span class="h m" style="font-size:5.9px;line-height:5.9px;color:#333">库名称</span></div>
<div class="a" style="left:277.32px;top:514.91px;width:10.68px;height:6.4px"><span class="h" style="font-size:6.4px;line-height:6.4px;color:#333">163</span></div>
<div class="a" style="left:446.29px;top:514.8px;width:13.21px;height:6.6px"><span class="h" style="font-size:6.6px;line-height:6.6px;color:#333">25%</span></div>
<div class="a" style="left:108px;top:525.82px;width:360.7px;height:12.18px;background:#f9f9f9;"></div>
<div class="a" style="left:120px;top:531.57px;width:17.7px;height:5.9px"><span class="h m" style="font-size:5.9px;line-height:5.9px;color:#333">库名称</span></div>
<div class="a" style="left:277.32px;top:531.18px;width:10.68px;height:6.4px"><span class="h" style="font-size:6.4px;line-height:6.4px;color:#333">163</span></div>
<div class="a" style="left:446.29px;top:531.07px;width:13.21px;height:6.6px"><span class="h" style="font-size:6.6px;line-height:6.6px;color:#333">25%</span></div>
<div class="a" style="left:465.2px;top:428.6px;width:2.7px;height:69px;background:#5c5c5c;border-radius:1.4px;"></div>
<div class="a" style="left:487.5px;top:393.25px;width:42.6px;height:7.1px"><span class="h b" style="font-size:7.1px;line-height:7.1px;color:#222">区域报警数量</span></div>
<div class="a" style="left:495.6px;top:417.05px;width:18.3px;height:6.1px"><span class="h" style="font-size:6.1px;line-height:6.1px;color:#333">朝阳区</span></div>
<div class="a" style="left:517.6px;top:416.6px;width:15.51px;height:6.7px"><span class="h" style="font-size:6.7px;line-height:6.7px;color:#333;letter-spacing:.2px">3000</span></div>
<div class="a" style="left:819.69px;top:416.55px;width:13.61px;height:6.8px"><span class="h" style="font-size:6.8px;line-height:6.8px;color:#333">25%</span></div>
<div class="a" style="left:495.7px;top:426.3px;width:337.6px;height:1.8px;background:#ececec;border-radius:1px;"></div>
<div class="a" style="left:495.7px;top:425.3px;width:184.8px;height:4px;background:#1478f0;border-radius:2px;"></div>
<div class="a" style="left:495.6px;top:434.25px;width:18.3px;height:6.1px"><span class="h" style="font-size:6.1px;line-height:6.1px;color:#333">朝阳区</span></div>
<div class="a" style="left:517.6px;top:433.8px;width:15.51px;height:6.7px"><span class="h" style="font-size:6.7px;line-height:6.7px;color:#333;letter-spacing:.2px">3000</span></div>
<div class="a" style="left:819.69px;top:433.75px;width:13.61px;height:6.8px"><span class="h" style="font-size:6.8px;line-height:6.8px;color:#333">25%</span></div>
<div class="a" style="left:495.7px;top:443.5px;width:337.6px;height:1.8px;background:#ececec;border-radius:1px;"></div>
<div class="a" style="left:495.7px;top:443.4px;width:146.8px;height:2px;background:#a9a9a9;border-radius:1px;"></div>
<div class="a" style="left:495.6px;top:451.45px;width:18.3px;height:6.1px"><span class="h" style="font-size:6.1px;line-height:6.1px;color:#333">朝阳区</span></div>
<div class="a" style="left:517.6px;top:451px;width:15.51px;height:6.7px"><span class="h" style="font-size:6.7px;line-height:6.7px;color:#333;letter-spacing:.2px">3000</span></div>
<div class="a" style="left:819.69px;top:450.95px;width:13.61px;height:6.8px"><span class="h" style="font-size:6.8px;line-height:6.8px;color:#333">25%</span></div>
<div class="a" style="left:495.7px;top:460.7px;width:337.6px;height:1.8px;background:#ececec;border-radius:1px;"></div>
<div class="a" style="left:495.7px;top:460.6px;width:114.8px;height:2px;background:#a9a9a9;border-radius:1px;"></div>
<div class="a" style="left:495.6px;top:468.65px;width:18.3px;height:6.1px"><span class="h" style="font-size:6.1px;line-height:6.1px;color:#333">朝阳区</span></div>
<div class="a" style="left:517.6px;top:468.2px;width:15.51px;height:6.7px"><span class="h" style="font-size:6.7px;line-height:6.7px;color:#333;letter-spacing:.2px">3000</span></div>
<div class="a" style="left:819.69px;top:468.15px;width:13.61px;height:6.8px"><span class="h" style="font-size:6.8px;line-height:6.8px;color:#333">25%</span></div>
<div class="a" style="left:495.7px;top:477.9px;width:337.6px;height:1.8px;background:#ececec;border-radius:1px;"></div>
<div class="a" style="left:495.7px;top:477.8px;width:96.3px;height:2px;background:#a9a9a9;border-radius:1px;"></div>
<div class="a" style="left:495.6px;top:485.85px;width:18.3px;height:6.1px"><span class="h" style="font-size:6.1px;line-height:6.1px;color:#333">朝阳区</span></div>
<div class="a" style="left:517.6px;top:485.4px;width:15.51px;height:6.7px"><span class="h" style="font-size:6.7px;line-height:6.7px;color:#333;letter-spacing:.2px">3000</span></div>
<div class="a" style="left:819.69px;top:485.35px;width:13.61px;height:6.8px"><span class="h" style="font-size:6.8px;line-height:6.8px;color:#333">25%</span></div>
<div class="a" style="left:495.7px;top:495.1px;width:337.6px;height:1.8px;background:#ececec;border-radius:1px;"></div>
<div class="a" style="left:495.7px;top:495px;width:65.5px;height:2px;background:#a9a9a9;border-radius:1px;"></div>
<div class="a" style="left:495.6px;top:503.05px;width:18.3px;height:6.1px"><span class="h" style="font-size:6.1px;line-height:6.1px;color:#333">朝阳区</span></div>
<div class="a" style="left:517.6px;top:502.6px;width:15.51px;height:6.7px"><span class="h" style="font-size:6.7px;line-height:6.7px;color:#333;letter-spacing:.2px">3000</span></div>
<div class="a" style="left:819.69px;top:502.55px;width:13.61px;height:6.8px"><span class="h" style="font-size:6.8px;line-height:6.8px;color:#333">25%</span></div>
<div class="a" style="left:495.7px;top:512.3px;width:337.6px;height:1.8px;background:#ececec;border-radius:1px;"></div>
<div class="a" style="left:495.7px;top:512.2px;width:48px;height:2px;background:#a9a9a9;border-radius:1px;"></div>
<div class="a" style="left:495.6px;top:520.25px;width:18.3px;height:6.1px"><span class="h" style="font-size:6.1px;line-height:6.1px;color:#333">朝阳区</span></div>
<div class="a" style="left:517.6px;top:519.8px;width:15.51px;height:6.7px"><span class="h" style="font-size:6.7px;line-height:6.7px;color:#333;letter-spacing:.2px">3000</span></div>
<div class="a" style="left:819.69px;top:519.75px;width:13.61px;height:6.8px"><span class="h" style="font-size:6.8px;line-height:6.8px;color:#333">25%</span></div>
<div class="a" style="left:495.7px;top:529.5px;width:337.6px;height:1.8px;background:#ececec;border-radius:1px;"></div>
<div class="a" style="left:495.7px;top:529.4px;width:27.5px;height:2px;background:#a9a9a9;border-radius:1px;"></div>
<div class="a" style="left:851.8px;top:409px;width:3px;height:69.5px;background:#555;border-radius:1.5px;"></div>
<div class="a" style="left:99px;top:554px;width:756.5px;height:0.7px;background:#f3f3f3;"></div>
</section>
<section class="alarm-level">
<div class="a" style="left:99.2px;top:567.5px;width:56px;height:7px"><span class="h m" style="font-size:7px;line-height:7px;color:#222">布控报警级别统计</span></div>
<div class="a" style="left:432px;top:564.2px;width:36.4px;height:13.4px;background:#f3f4f4;border-radius:6.7px;"></div>
<svg class="a" style="left:438px;top:567.3px;width:10px;height:7px;" viewBox="0 0 10 7"><path d="M2 4.1A1.5 1.5 0 0 1 2.6 1.5A2.6 2.2 0 0 1 7.4 1.5A1.5 1.5 0 0 1 8 4.1" fill="none" stroke="#4ab4ea" stroke-width="1.5" stroke-linecap="round"/><path d="M3.1 3.6H6.9L5 6.3Z" fill="#34a8e6"/></svg>
<div class="a" style="left:450px;top:567.7px;width:12.4px;height:6.2px"><span class="h m" style="font-size:6.2px;line-height:6.2px;color:#505050">导出</span></div>
<svg class="a" style="left:176.3px;top:620.1px;width:80px;height:80px;" viewBox="0 0 80 80"><path d="M40.44 3.9A36.1 36.1 0 0 1 40.44 76.1L40.33 67.3A27.3 27.3 0 0 0 40.33 12.7Z" fill="#fba90f"/><path d="M39.56 76.1A36.1 36.1 0 0 1 3.9 40.44L12.7 40.33A27.3 27.3 0 0 0 39.67 67.3Z" fill="#2a9be2"/><path d="M3.9 39.56A36.1 36.1 0 0 1 39.56 3.9L39.72 17.3A22.7 22.7 0 0 0 17.3 39.72Z" fill="#f5545f"/></svg>
<div class="a" style="left:203.6px;top:649.9px;width:24.8px;height:6.2px"><span class="h" style="font-size:6.2px;line-height:6.2px;color:#555">一级报警</span></div>
<div class="a" style="left:203.95px;top:658.26px;width:25.69px;height:15.4px"><span class="h" style="font-size:15.4px;line-height:15.4px;color:#2a2f3a">999</span></div>
<div class="a" style="left:152.58px;top:709.1px;width:127.64px;height:7.6px"><span class="h" style="font-size:7.6px;line-height:7.6px;color:#444">2018-12-04 12:00～2018-12-06 12:00</span></div>
<div class="a" style="left:364.8px;top:633.5px;width:21px;height:7px"><span class="h" style="font-size:7px;line-height:7px;color:#333">共计：</span></div>
<div class="a" style="left:386px;top:633.13px;width:17.59px;height:7.6px"><span class="h" style="font-size:7.6px;line-height:7.6px;color:#333;letter-spacing:.23px">8901</span></div>
<div class="a" style="left:405.2px;top:633.5px;width:7px;height:7px"><span class="h" style="font-size:7px;line-height:7px;color:#333">次</span></div>
<svg class="a" style="left:365.2px;top:652.6px;width:8px;height:4px;" viewBox="0 0 8 4"><path d="M0.2 3.4A3.6 3.2 0 0 1 7.4 3.4Q7.4 3.7 6.9 3.7L5 3.3Q3.8 2.6 2.6 3.3L0.7 3.7Q0.2 3.7 0.2 3.4Z" fill="#ea2a40"/></svg>
<div class="a" style="left:377.4px;top:651.73px;width:24.6px;height:6.15px"><span class="h m" style="font-size:6.15px;line-height:6.15px;color:#333">一级报警</span></div>
<div class="a" style="left:405.6px;top:651.45px;width:13.21px;height:6.6px"><span class="h" style="font-size:6.6px;line-height:6.6px;color:#333">25%</span></div>
<svg class="a" style="left:365.2px;top:666.8px;width:8px;height:4px;" viewBox="0 0 8 4"><path d="M0.2 3.4A3.6 3.2 0 0 1 7.4 3.4Q7.4 3.7 6.9 3.7L5 3.3Q3.8 2.6 2.6 3.3L0.7 3.7Q0.2 3.7 0.2 3.4Z" fill="#f5a623"/></svg>
<div class="a" style="left:377.4px;top:665.93px;width:24.6px;height:6.15px"><span class="h m" style="font-size:6.15px;line-height:6.15px;color:#333">二级报警</span></div>
<div class="a" style="left:405.6px;top:665.65px;width:13.21px;height:6.6px"><span class="h" style="font-size:6.6px;line-height:6.6px;color:#333">50%</span></div>
<svg class="a" style="left:365.2px;top:681px;width:8px;height:4px;" viewBox="0 0 8 4"><path d="M0.2 3.4A3.6 3.2 0 0 1 7.4 3.4Q7.4 3.7 6.9 3.7L5 3.3Q3.8 2.6 2.6 3.3L0.7 3.7Q0.2 3.7 0.2 3.4Z" fill="#1e88e5"/></svg>
<div class="a" style="left:377.4px;top:680.12px;width:24.6px;height:6.15px"><span class="h m" style="font-size:6.15px;line-height:6.15px;color:#333">三级报警</span></div>
<div class="a" style="left:405.6px;top:679.85px;width:13.21px;height:6.6px"><span class="h" style="font-size:6.6px;line-height:6.6px;color:#333">25%</span></div>
</section>
<section class="alarm-trend">
<div class="a" style="left:486.6px;top:567.55px;width:49.7px;height:7.1px"><span class="h b" style="font-size:7.1px;line-height:7.1px;color:#222">布控报警趋势图</span></div>
<div class="a" style="left:819px;top:564.1px;width:36.4px;height:13.4px;background:#f3f4f4;border-radius:6.7px;"></div>
<svg class="a" style="left:825px;top:567.2px;width:10px;height:7px;" viewBox="0 0 10 7"><path d="M2 4.1A1.5 1.5 0 0 1 2.6 1.5A2.6 2.2 0 0 1 7.4 1.5A1.5 1.5 0 0 1 8 4.1" fill="none" stroke="#4ab4ea" stroke-width="1.5" stroke-linecap="round"/><path d="M3.1 3.6H6.9L5 6.3Z" fill="#34a8e6"/></svg>
<div class="a" style="left:837px;top:567.6px;width:12.4px;height:6.2px"><span class="h m" style="font-size:6.2px;line-height:6.2px;color:#505050">导出</span></div>
<div class="a" style="left:617.8px;top:594.4px;width:4.2px;height:4.2px;background:#f5222d;border-radius:50%;"></div>
<div class="a" style="left:626px;top:593.6px;width:11.6px;height:5.8px"><span class="h m" style="font-size:5.8px;line-height:5.8px;color:#333">人脸</span></div>
<div class="a" style="left:655px;top:594.4px;width:4.2px;height:4.2px;background:#fa8c16;border-radius:50%;"></div>
<div class="a" style="left:663px;top:593.6px;width:17.4px;height:5.8px"><span class="h m" style="font-size:5.8px;line-height:5.8px;color:#333">机动车</span></div>
<div class="a" style="left:691.2px;top:594.4px;width:4.2px;height:4.2px;background:#1677ff;border-radius:50%;"></div>
<div class="a" style="left:699.4px;top:593.6px;width:23.2px;height:5.8px"><span class="h m" style="font-size:5.8px;line-height:5.8px;color:#333">非机动车</span></div>
<div class="a" style="left:496.46px;top:609.03px;width:8.84px;height:5.3px"><span class="h" style="font-size:5.3px;line-height:5.3px;color:#555">700</span></div>
<div class="a" style="left:502.35px;top:622.49px;width:2.95px;height:5.3px"><span class="h" style="font-size:5.3px;line-height:5.3px;color:#555">6</span></div>
<div class="a" style="left:499.4px;top:635.95px;width:5.9px;height:5.3px"><span class="h" style="font-size:5.3px;line-height:5.3px;color:#555">50</span></div>
<div class="a" style="left:499.4px;top:649.41px;width:5.9px;height:5.3px"><span class="h" style="font-size:5.3px;line-height:5.3px;color:#555">40</span></div>
<div class="a" style="left:499.4px;top:662.87px;width:5.9px;height:5.3px"><span class="h" style="font-size:5.3px;line-height:5.3px;color:#555">30</span></div>
<div class="a" style="left:499.4px;top:676.33px;width:5.9px;height:5.3px"><span class="h" style="font-size:5.3px;line-height:5.3px;color:#555">20</span></div>
<div class="a" style="left:499.4px;top:689.79px;width:5.9px;height:5.3px"><span class="h" style="font-size:5.3px;line-height:5.3px;color:#555">10</span></div>
<div class="a" style="left:502.35px;top:703.25px;width:2.95px;height:5.3px"><span class="h" style="font-size:5.3px;line-height:5.3px;color:#555">0</span></div>
<svg class="a" style="left:0;top:0;width:865px;height:746px" viewBox="0 0 865 746"><path d="M511.6 612.8H833.3" stroke="#f4f4f4" stroke-width="0.7"/><path d="M511.6 626.6H833.3" stroke="#f4f4f4" stroke-width="0.7"/><path d="M511.6 640.4H833.3" stroke="#f4f4f4" stroke-width="0.7"/><path d="M511.6 654.2H833.3" stroke="#f4f4f4" stroke-width="0.7"/><path d="M511.6 668H833.3" stroke="#f4f4f4" stroke-width="0.7"/><path d="M511.6 681.8H833.3" stroke="#f4f4f4" stroke-width="0.7"/><path d="M511.6 695.6H833.3" stroke="#f4f4f4" stroke-width="0.7"/><path d="M518.7 711.4C518.95 707.83 519.62 697.22 520.2 690C520.78 682.78 521.32 674.43 522.2 668.1C523.08 661.77 524.25 655.57 525.5 652C526.75 648.43 528.45 646.87 529.7 646.7C530.95 646.53 531.92 648.58 533 651C534.08 653.42 534.67 656.6 536.2 661.2C537.73 665.8 540.03 673.38 542.2 678.6C544.37 683.82 546.28 688.58 549.2 692.5C552.12 696.42 555.63 699.63 559.7 702.1C563.77 704.57 568.38 706.57 573.6 707.3C578.82 708.03 584.93 708.08 591 706.5C597.07 704.92 602.88 702.57 610 697.8C617.12 693.03 626.2 683.87 633.7 677.9C641.2 671.93 649.28 665.82 655 662C660.72 658.18 663.45 656.83 668 655C672.55 653.17 677.8 652.17 682.3 651C686.8 649.83 690.73 648.77 695 648C699.27 647.23 703.73 646.63 707.9 646.4C712.07 646.17 715.73 646.27 720 646.6C724.27 646.93 729.17 647.58 733.5 648.4C737.83 649.22 741.73 650.22 746 651.5C750.27 652.78 753.08 653.63 759.1 656.1C765.12 658.57 774.85 662.25 782.1 666.3C789.35 670.35 796.2 675.07 802.6 680.4C809 685.73 815.53 693.13 820.5 698.3C825.47 703.47 830.42 709.22 832.4 711.4L832.4 711.4L518.7 711.4Z" fill="rgba(40,150,245,.18)"/><path d="M518.7 711.4C518.95 707.83 519.62 697.22 520.2 690C520.78 682.78 521.32 674.43 522.2 668.1C523.08 661.77 524.25 655.57 525.5 652C526.75 648.43 528.45 646.87 529.7 646.7C530.95 646.53 531.92 648.58 533 651C534.08 653.42 534.67 656.6 536.2 661.2C537.73 665.8 540.03 673.38 542.2 678.6C544.37 683.82 546.28 688.58 549.2 692.5C552.12 696.42 555.63 699.63 559.7 702.1C563.77 704.57 568.38 706.57 573.6 707.3C578.82 708.03 584.93 708.08 591 706.5C597.07 704.92 602.88 702.57 610 697.8C617.12 693.03 626.2 683.87 633.7 677.9C641.2 671.93 649.28 665.82 655 662C660.72 658.18 663.45 656.83 668 655C672.55 653.17 677.8 652.17 682.3 651C686.8 649.83 690.73 648.77 695 648C699.27 647.23 703.73 646.63 707.9 646.4C712.07 646.17 715.73 646.27 720 646.6C724.27 646.93 729.17 647.58 733.5 648.4C737.83 649.22 741.73 650.22 746 651.5C750.27 652.78 753.08 653.63 759.1 656.1C765.12 658.57 774.85 662.25 782.1 666.3C789.35 670.35 796.2 675.07 802.6 680.4C809 685.73 815.53 693.13 820.5 698.3C825.47 703.47 830.42 709.22 832.4 711.4" fill="none" stroke="#86bdec" stroke-width="0.9" /><path d="M528.7 711.4C530.38 708.83 535.38 700.88 538.8 696C542.22 691.12 546.02 686.02 549.2 682.1C552.38 678.18 554.7 674.6 557.9 672.5C561.1 670.4 563.47 669.78 568.4 669.5C573.33 669.22 580.57 669.72 587.5 670.8C594.43 671.88 603.75 674.13 610 676C616.25 677.87 620 680 625 682C630 684 635.13 686.35 640 688C644.87 689.65 650.03 691.57 654.2 691.9C658.37 692.23 661.6 691.48 665 690C668.4 688.52 671.93 686.17 674.6 683C677.27 679.83 678.87 674.63 681 671C683.13 667.37 685.4 663.37 687.4 661.2C689.4 659.03 690.87 658.72 693 658C695.13 657.28 697.03 657.32 700.2 656.9C703.37 656.48 708.58 656.07 712 655.5C715.42 654.93 718.03 654.75 720.7 653.5C723.37 652.25 725.45 650.33 728 648C730.55 645.67 733.33 641.75 736 639.5C738.67 637.25 741.22 635.57 744 634.5C746.78 633.43 750.03 632.93 752.7 633.1C755.37 633.27 757.67 634.02 760 635.5C762.33 636.98 764.37 639.33 766.7 642C769.03 644.67 771.43 648.08 774 651.5C776.57 654.92 778.18 656.83 782.1 662.5C786.02 668.17 793.52 679.58 797.5 685.5C801.48 691.42 803.45 694.58 806 698C808.55 701.42 810.6 703.77 812.8 706C815 708.23 818.13 710.5 819.2 711.4L819.2 711.4L528.7 711.4Z" fill="rgba(250,173,20,.20)"/><path d="M528.7 711.4C530.38 708.83 535.38 700.88 538.8 696C542.22 691.12 546.02 686.02 549.2 682.1C552.38 678.18 554.7 674.6 557.9 672.5C561.1 670.4 563.47 669.78 568.4 669.5C573.33 669.22 580.57 669.72 587.5 670.8C594.43 671.88 603.75 674.13 610 676C616.25 677.87 620 680 625 682C630 684 635.13 686.35 640 688C644.87 689.65 650.03 691.57 654.2 691.9C658.37 692.23 661.6 691.48 665 690C668.4 688.52 671.93 686.17 674.6 683C677.27 679.83 678.87 674.63 681 671C683.13 667.37 685.4 663.37 687.4 661.2C689.4 659.03 690.87 658.72 693 658C695.13 657.28 697.03 657.32 700.2 656.9C703.37 656.48 708.58 656.07 712 655.5C715.42 654.93 718.03 654.75 720.7 653.5C723.37 652.25 725.45 650.33 728 648C730.55 645.67 733.33 641.75 736 639.5C738.67 637.25 741.22 635.57 744 634.5C746.78 633.43 750.03 632.93 752.7 633.1C755.37 633.27 757.67 634.02 760 635.5C762.33 636.98 764.37 639.33 766.7 642C769.03 644.67 771.43 648.08 774 651.5C776.57 654.92 778.18 656.83 782.1 662.5C786.02 668.17 793.52 679.58 797.5 685.5C801.48 691.42 803.45 694.58 806 698C808.55 701.42 810.6 703.77 812.8 706C815 708.23 818.13 710.5 819.2 711.4" fill="none" stroke="#f0bb60" stroke-width="0.9" /><path d="M512.3 711.4C513.23 707.67 515.78 694.48 517.9 689C520.02 683.52 522.4 680.75 525 678.5C527.6 676.25 530.67 675.58 533.5 675.5C536.33 675.42 539.08 676.62 542 678C544.92 679.38 546.6 680.95 551 683.8C555.4 686.65 563.57 692.4 568.4 695.1C573.23 697.8 576.82 698.98 580 700C583.18 701.02 585 701.28 587.5 701.2C590 701.12 592.67 700.65 595 699.5C597.33 698.35 599.67 696.55 601.5 694.3C603.33 692.05 604.58 688.97 606 686C607.42 683.03 608.5 679.58 610 676.5C611.5 673.42 613.33 670.63 615 667.5C616.67 664.37 618.33 660.78 620 657.7C621.67 654.62 623.33 651.62 625 649C626.67 646.38 628.33 644 630 642C631.67 640 633.33 638.33 635 637C636.67 635.67 638.33 634.77 640 634C641.67 633.23 643.5 632.75 645 632.4C646.5 632.05 647.27 631.8 649 631.9C650.73 632 652.83 631.73 655.4 633C657.97 634.27 661.97 637.17 664.4 639.5C666.83 641.83 668.15 644.58 670 647C671.85 649.42 673.45 651.9 675.5 654C677.55 656.1 679.98 658.13 682.3 659.6C684.62 661.07 686.85 661.9 689.4 662.8C691.95 663.7 695 664.22 697.6 665C700.2 665.78 702.43 666.42 705 667.5C707.57 668.58 709.17 668.42 713 671.5C716.83 674.58 723.1 682.38 728 686C732.9 689.62 738.23 692.62 742.4 693.2C746.57 693.78 749.37 691.63 753 689.5C756.63 687.37 759.35 685.32 764.2 680.4C769.05 675.48 775.7 667.47 782.1 660C788.5 652.53 797.95 640.63 802.6 635.6C807.25 630.57 807.67 631.07 810 629.8C812.33 628.53 814.6 627.8 816.6 628C818.6 628.2 820.28 628.67 822 631C823.72 633.33 825.57 636.83 826.9 642C828.23 647.17 829.22 654.83 830 662C830.78 669.17 831.05 676.77 831.6 685C832.15 693.23 833.02 707 833.3 711.4" fill="none" stroke="#f24452" stroke-opacity="0.16" stroke-width="2.2"/><path d="M512.3 711.4C513.23 707.67 515.78 694.48 517.9 689C520.02 683.52 522.4 680.75 525 678.5C527.6 676.25 530.67 675.58 533.5 675.5C536.33 675.42 539.08 676.62 542 678C544.92 679.38 546.6 680.95 551 683.8C555.4 686.65 563.57 692.4 568.4 695.1C573.23 697.8 576.82 698.98 580 700C583.18 701.02 585 701.28 587.5 701.2C590 701.12 592.67 700.65 595 699.5C597.33 698.35 599.67 696.55 601.5 694.3C603.33 692.05 604.58 688.97 606 686C607.42 683.03 608.5 679.58 610 676.5C611.5 673.42 613.33 670.63 615 667.5C616.67 664.37 618.33 660.78 620 657.7C621.67 654.62 623.33 651.62 625 649C626.67 646.38 628.33 644 630 642C631.67 640 633.33 638.33 635 637C636.67 635.67 638.33 634.77 640 634C641.67 633.23 643.5 632.75 645 632.4C646.5 632.05 647.27 631.8 649 631.9C650.73 632 652.83 631.73 655.4 633C657.97 634.27 661.97 637.17 664.4 639.5C666.83 641.83 668.15 644.58 670 647C671.85 649.42 673.45 651.9 675.5 654C677.55 656.1 679.98 658.13 682.3 659.6C684.62 661.07 686.85 661.9 689.4 662.8C691.95 663.7 695 664.22 697.6 665C700.2 665.78 702.43 666.42 705 667.5C707.57 668.58 709.17 668.42 713 671.5C716.83 674.58 723.1 682.38 728 686C732.9 689.62 738.23 692.62 742.4 693.2C746.57 693.78 749.37 691.63 753 689.5C756.63 687.37 759.35 685.32 764.2 680.4C769.05 675.48 775.7 667.47 782.1 660C788.5 652.53 797.95 640.63 802.6 635.6C807.25 630.57 807.67 631.07 810 629.8C812.33 628.53 814.6 627.8 816.6 628C818.6 628.2 820.28 628.67 822 631C823.72 633.33 825.57 636.83 826.9 642C828.23 647.17 829.22 654.83 830 662C830.78 669.17 831.05 676.77 831.6 685C832.15 693.23 833.02 707 833.3 711.4L833.3 711.4L512.3 711.4Z" fill="rgba(245,60,72,.13)"/><path d="M512.3 711.4C513.23 707.67 515.78 694.48 517.9 689C520.02 683.52 522.4 680.75 525 678.5C527.6 676.25 530.67 675.58 533.5 675.5C536.33 675.42 539.08 676.62 542 678C544.92 679.38 546.6 680.95 551 683.8C555.4 686.65 563.57 692.4 568.4 695.1C573.23 697.8 576.82 698.98 580 700C583.18 701.02 585 701.28 587.5 701.2C590 701.12 592.67 700.65 595 699.5C597.33 698.35 599.67 696.55 601.5 694.3C603.33 692.05 604.58 688.97 606 686C607.42 683.03 608.5 679.58 610 676.5C611.5 673.42 613.33 670.63 615 667.5C616.67 664.37 618.33 660.78 620 657.7C621.67 654.62 623.33 651.62 625 649C626.67 646.38 628.33 644 630 642C631.67 640 633.33 638.33 635 637C636.67 635.67 638.33 634.77 640 634C641.67 633.23 643.5 632.75 645 632.4C646.5 632.05 647.27 631.8 649 631.9C650.73 632 652.83 631.73 655.4 633C657.97 634.27 661.97 637.17 664.4 639.5C666.83 641.83 668.15 644.58 670 647C671.85 649.42 673.45 651.9 675.5 654C677.55 656.1 679.98 658.13 682.3 659.6C684.62 661.07 686.85 661.9 689.4 662.8C691.95 663.7 695 664.22 697.6 665C700.2 665.78 702.43 666.42 705 667.5C707.57 668.58 709.17 668.42 713 671.5C716.83 674.58 723.1 682.38 728 686C732.9 689.62 738.23 692.62 742.4 693.2C746.57 693.78 749.37 691.63 753 689.5C756.63 687.37 759.35 685.32 764.2 680.4C769.05 675.48 775.7 667.47 782.1 660C788.5 652.53 797.95 640.63 802.6 635.6C807.25 630.57 807.67 631.07 810 629.8C812.33 628.53 814.6 627.8 816.6 628C818.6 628.2 820.28 628.67 822 631C823.72 633.33 825.57 636.83 826.9 642C828.23 647.17 829.22 654.83 830 662C830.78 669.17 831.05 676.77 831.6 685C832.15 693.23 833.02 707 833.3 711.4" fill="none" stroke="#f03e4d" stroke-width="1.1" /><path d="M511.6 711.6H833.3" stroke="#cfcfcf" stroke-width="0.6"/><path d="M511.6 711.6v2.2" stroke="#c8c8c8" stroke-width="0.6"/><path d="M557.56 711.6v2.2" stroke="#c8c8c8" stroke-width="0.6"/><path d="M603.51 711.6v2.2" stroke="#c8c8c8" stroke-width="0.6"/><path d="M649.47 711.6v2.2" stroke="#c8c8c8" stroke-width="0.6"/><path d="M695.43 711.6v2.2" stroke="#c8c8c8" stroke-width="0.6"/><path d="M741.39 711.6v2.2" stroke="#c8c8c8" stroke-width="0.6"/><path d="M787.34 711.6v2.2" stroke="#c8c8c8" stroke-width="0.6"/><path d="M833.3 711.6v2.2" stroke="#c8c8c8" stroke-width="0.6"/><path d="M655.4 638v2.4" stroke="#3c4046" stroke-width="1.4"/><circle cx="655.4" cy="633.5" r="2.4" fill="#fff" stroke="#f4707b" stroke-width="1"/></svg>
<div class="a" style="left:518.72px;top:714.76px;width:31.71px;height:6.2px"><span class="h" style="font-size:6.2px;line-height:6.2px;color:#444">2018-12-01</span></div>
<div class="a" style="left:564.68px;top:714.76px;width:31.71px;height:6.2px"><span class="h" style="font-size:6.2px;line-height:6.2px;color:#444">2018-12-02</span></div>
<div class="a" style="left:610.64px;top:714.76px;width:31.71px;height:6.2px"><span class="h" style="font-size:6.2px;line-height:6.2px;color:#444">2018-12-03</span></div>
<div class="a" style="left:656.59px;top:714.76px;width:31.71px;height:6.2px"><span class="h" style="font-size:6.2px;line-height:6.2px;color:#444">2018-12-04</span></div>
<div class="a" style="left:702.55px;top:714.76px;width:31.71px;height:6.2px"><span class="h" style="font-size:6.2px;line-height:6.2px;color:#444">2018-12-05</span></div>
<div class="a" style="left:748.51px;top:714.76px;width:31.71px;height:6.2px"><span class="h" style="font-size:6.2px;line-height:6.2px;color:#444">2018-12-06</span></div>
<div class="a" style="left:794.46px;top:714.76px;width:31.71px;height:6.2px"><span class="h" style="font-size:6.2px;line-height:6.2px;color:#444">2018-12-07</span></div>
<svg class="a" style="left:510.9px;top:724px;width:324.5px;height:12.6px;" viewBox="0 -1 324.5 12.6"><rect x="0" y="0" width="323.5" height="10.6" fill="#f0f0f0" stroke="#dcdcdc" stroke-width="0.6"/><path d="M0 10.6L0 8.87L5.39 8.56L10.78 8.49L16.18 9.37L21.57 9.37L26.96 9.37L32.35 9.37L37.74 9.37L43.13 9.11L48.52 8.95L53.92 5.38L59.31 4.64L64.7 5.38L70.09 5.77L75.48 6.43L80.88 6.15L86.27 6.05L91.66 6.96L97.05 6.58L102.44 6.97L107.83 7.07L113.22 6.46L118.62 6.99L124.01 6.93L129.4 6.46L134.79 5.47L140.18 5.64L145.57 6.36L150.97 7.31L156.36 6.76L161.75 5.99L167.14 5.58L172.53 5.42L177.93 4.72L183.32 4.77L188.71 5.68L194.1 5.37L199.49 4.71L204.88 4.94L210.28 5.93L215.67 6.62L221.06 7.53L226.45 8.29L231.84 8.52L237.23 9.37L242.62 9.27L248.02 8.61L253.41 9.07L258.8 9.36L264.19 8.41L269.58 9.08L274.98 9.37L280.37 9.19L285.76 9.37L291.15 9.37L296.54 8.43L301.93 8.4L307.32 5.46L312.72 4.63L318.11 3.86L323.5 4.08L323.5 10.6Z" fill="#dedede"/><rect x="13.5" y="0" width="23" height="10.6" fill="#86c0ee" fill-opacity="0.85"/><circle cx="13.5" cy="5.3" r="4.8" fill="#e3f2fd" stroke="#74bff5" stroke-width="1.2"/><path d="M12.5 4v2.6M14.5 4v2.6" stroke="#74bff5" stroke-width="0.8"/><circle cx="36.5" cy="5.3" r="4.8" fill="#e3f2fd" stroke="#74bff5" stroke-width="1.2"/><path d="M35.5 4v2.6M37.5 4v2.6" stroke="#74bff5" stroke-width="0.8"/></svg>
<div class="a" style="left:628.4px;top:640.2px;width:54.4px;height:37.5px;background:rgba(64,68,74,.94);border-radius:1.4px;"></div>
<div class="a" style="left:634.4px;top:646.2px;width:4.6px;height:4.6px;background:#f0566b;border-radius:50%;"></div>
<div class="a" style="left:643.2px;top:646.45px;width:15.3px;height:5.1px"><span class="h b" style="font-size:5.1px;line-height:5.1px;color:#fff">机动车</span></div>
<div class="a" style="left:643.2px;top:655.58px;width:6.23px;height:5.6px"><span class="h b" style="font-size:5.6px;line-height:5.6px;color:#fff">90</span></div>
<div class="a" style="left:651px;top:655.95px;width:5.1px;height:5.1px"><span class="h b" style="font-size:5.1px;line-height:5.1px;color:#fff">次</span></div>
<div class="a" style="left:643.4px;top:664.47px;width:29.67px;height:5.8px"><span class="h b" style="font-size:5.8px;line-height:5.8px;color:#fff">2018-12-04</span></div>
</section>
</body>
</html>
